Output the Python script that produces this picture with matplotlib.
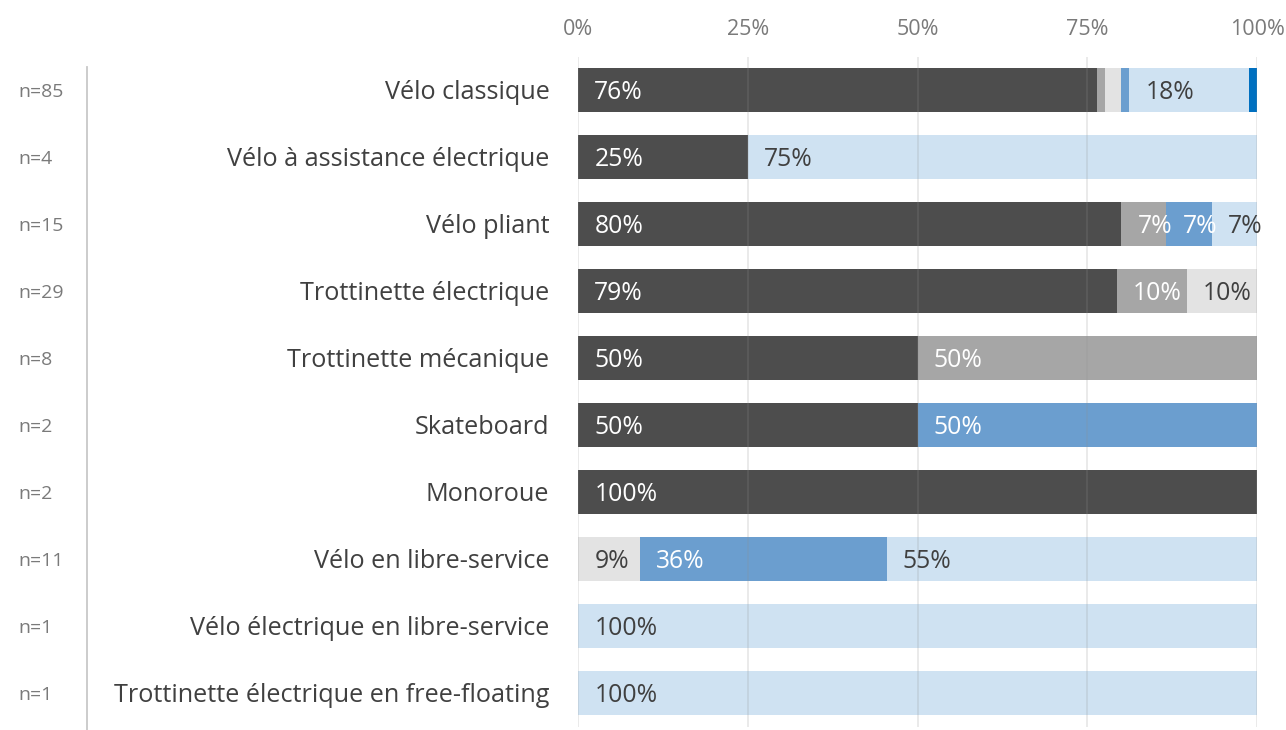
import matplotlib
matplotlib.use("Agg")
import matplotlib.pyplot as plt
from matplotlib.lines import Line2D
import numpy as np

plt.rcParams['font.family'] = ['Open Sans', 'DejaVu Sans']

categories = ["Vélo classique", "Vélo à assistance électrique", "Vélo pliant",
              "Trottinette électrique", "Trottinette mécanique", "Skateboard",
              "Monoroue", "Vélo en libre-service", "Vélo électrique en libre-service",
              "Trottinette électrique en free-floating"]
n_values = [85, 4, 15, 29, 8, 2, 2, 11, 1, 1]

# counts per segment (6 response categories)
seg_dark = [65, 1, 12, 23, 4, 1, 2, 0, 0, 0]
seg_grey = [1, 0, 1, 3, 4, 0, 0, 0, 0, 0]
seg_lightgrey = [2, 0, 0, 3, 0, 0, 0, 1, 0, 0]
seg_blue = [1, 0, 1, 0, 0, 1, 0, 4, 0, 0]
seg_lightblue = [15, 3, 1, 0, 0, 0, 0, 6, 1, 1]
seg_darkblue = [1, 0, 0, 0, 0, 0, 0, 0, 0, 0]

tick_labels = ["0%", "25%", "50%", "75%", "100%"]

series = [seg_dark, seg_grey, seg_lightgrey, seg_blue, seg_lightblue, seg_darkblue]
colors = ["#4d4d4d", "#a6a6a6", "#e3e3e3", "#6b9ecf", "#cfe2f2", "#0070c0"]
text_colors = ["white", "white", "#404040", "white", "#404040", "white"]

W, H = 1286, 730
fig = plt.figure(figsize=(W / 100, H / 100), dpi=100)
ax = fig.add_axes([578 / W, 1 - 726.5 / H, (1257 - 578) / W, (726.5 - 56.5) / H])

y = np.arange(len(categories))
n_arr = np.array(n_values, dtype=float)
left = np.zeros(len(categories))
for vals, c, tc in zip(series, colors, text_colors):
    frac = np.array(vals) / n_arr * 100
    ax.barh(y, frac, left=left, height=0.67, color=c, zorder=1)
    for i, (f, l) in enumerate(zip(frac, left)):
        if f >= 6:
            ax.text(l + 2.4, i + 0.03, f"{round(f)}%", va="center", ha="left",
                    fontsize=17.8, color=tc, zorder=3)
    left += frac

ax.set_xlim(0, 100)
ax.set_ylim(len(categories) - 0.5, -0.5)
ax.set_xticks([0, 25, 50, 75, 100])
ax.set_xticklabels(tick_labels)
ax.xaxis.tick_top()
ax.tick_params(axis="x", length=0, pad=12, labelsize=15.5, labelcolor="#7a7a7a")
ax.set_yticks([])
for s in ax.spines.values():
    s.set_visible(False)
for xv in [0, 25, 50, 75, 100]:
    ax.axvline(xv, color="#909090", lw=1.3, alpha=0.2, zorder=2)

for i, (cat, n) in enumerate(zip(categories, n_values)):
    ax.text(-4.2, i + 0.03, cat, ha="right", va="center", fontsize=18.2, color="#404040")
    fig.text(18 / W, 1 - (92 + 67 * i) / H, f"n={n}", ha="left", va="center",
             fontsize=14, color="#7a7a7a")

fig.add_artist(Line2D([87 / W, 87 / W], [1 - 67 / H, 0], color="#c8c8c8", lw=1.3))

fig.savefig("out.png", dpi=100)
